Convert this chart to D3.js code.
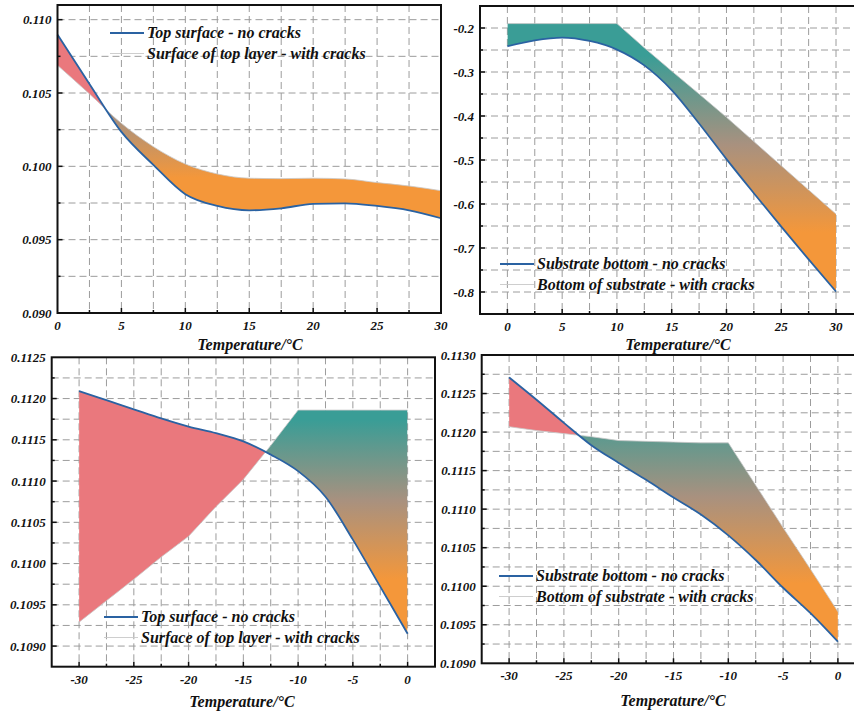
<!DOCTYPE html>
<html><head><meta charset="utf-8">
<script src="https://cdn.jsdelivr.net/npm/d3@7"></script>
<style>body{margin:0;background:#fff}svg{display:block}</style>
</head><body>
<svg id="chart" width="854" height="714"></svg>
<script>
// ---------- DATA ----------
// Panel A : top surface, 0..30 °C
const tempA = [0, 2.5, 5, 7.5, 10, 12.5, 15, 17.5, 20, 22.5, 25, 27.5, 30];
const noCracksA = [0.10898, 0.10562, 0.10235, 0.1001, 0.0981, 0.0973, 0.0970, 0.09714, 0.09744, 0.09748, 0.0973, 0.0970, 0.09646];
const withCracksA = [0.10689, 0.10494, 0.10293, 0.10134, 0.10016, 0.09948, 0.09919, 0.09916, 0.09919, 0.09914, 0.09889, 0.09866, 0.09834];
// Panel B : substrate bottom, 0..30 °C
const tempB = [0, 2.5, 5, 7.5, 10, 12.5, 15, 17.5, 20, 22.5, 25, 27.5, 30];
const noCracksB = [-0.2415, -0.228, -0.2218, -0.2295, -0.249, -0.285, -0.341, -0.417, -0.498, -0.5755, -0.6515, -0.726, -0.799];
const withCracksB = [-0.19, -0.19, -0.19, -0.19, -0.19, -0.245, -0.298, -0.35, -0.403, -0.458, -0.513, -0.568, -0.623];
// Panel C : top surface, -30..0 °C
const tempC = [-30, -27.5, -25, -22.5, -20, -17.5, -15, -12.5, -10, -7.5, -5, -2.5, 0];
const noCracksC = [0.11209, 0.11198, 0.11187, 0.11176, 0.11166, 0.11158, 0.11148, 0.11132, 0.11112, 0.11081, 0.11029, 0.10972, 0.10915];
const withCracksC = [0.10929, 0.10955, 0.10981, 0.11008, 0.11033, 0.11069, 0.11102, 0.11143, 0.11186, 0.11186, 0.11186, 0.11186, 0.11186];
// Panel D : substrate bottom, -30..0 °C
const tempD = [-30, -27.5, -25, -22.5, -20, -17.5, -15, -12.5, -10, -7.5, -5, -2.5, 0];
const noCracksD = [0.11271, 0.11242, 0.11212, 0.11183, 0.1116, 0.11138, 0.11115, 0.11093, 0.11066, 0.11034, 0.10998, 0.10965, 0.10928];
const withCracksD = [0.11207, 0.11202, 0.11198, 0.11194, 0.11189, 0.11188, 0.11187, 0.11186, 0.11186, 0.11131, 0.11076, 0.11022, 0.10967];

// tick labels
const xTicksPos = [0, 5, 10, 15, 20, 25, 30];
const xTicksNeg = [-30, -25, -20, -15, -10, -5, 0];
const yTicksA = [0.090, 0.095, 0.100, 0.105, 0.110];
const yTicksB = [-0.8, -0.7, -0.6, -0.5, -0.4, -0.3, -0.2];
const yTicksC = [0.1090, 0.1095, 0.1100, 0.1105, 0.1110, 0.1115, 0.1120, 0.1125];
const yTicksD = [0.1090, 0.1095, 0.1100, 0.1105, 0.1110, 0.1115, 0.1120, 0.1125, 0.1130];

const legendTop = ["Top surface - no cracks", "Surface of top layer - with cracks"];
const legendBottom = ["Substrate bottom - no cracks", "Bottom of substrate - with cracks"];
const xTitle = "Temperature/\u00B0C";

// ---------- LAYOUT ----------
const panels = [
  {id:"A", left:57.5, top:5, width:383.5, height:308, xDom:[0,30], yDom:[0.090,0.111],
   x:tempA, a:noCracksA, b:withCracksA, xt:xTicksPos, yt:yTicksA, yfmt:d=>d.toFixed(3),
   xMinorStep:2.5, yMinorStep:0.0025, crackCurve:d3.curveMonotoneX,
   legend:legendTop, lx:110, ly:33, titleX:250, titleY:350},
  {id:"B", left:480, top:6, width:383.4, height:308, xDom:[-2.5,32.5], yDom:[-0.85,-0.15],
   x:tempB, a:noCracksB, b:withCracksB, xt:xTicksPos, yt:yTicksB, yfmt:d=>d.toFixed(1),
   xMinorStep:2.5, yMinorStep:0.05, crackCurve:d3.curveLinear,
   legend:legendBottom, lx:500, ly:264, titleX:678, titleY:350},
  {id:"C", left:51.7, top:357.3, width:383.3, height:309.4, xDom:[-32.5,2.5], yDom:[0.10875,0.1125],
   x:tempC, a:noCracksC, b:withCracksC, xt:xTicksNeg, yt:yTicksC, yfmt:d=>d.toFixed(4),
   xMinorStep:2.5, yMinorStep:0.00025, crackCurve:d3.curveLinear,
   legend:legendTop, lx:104, ly:617, titleX:242, titleY:707},
  {id:"D", left:481.7, top:355, width:383.6, height:308.3, xDom:[-32.5,2.5], yDom:[0.1090,0.1130],
   x:tempD, a:noCracksD, b:withCracksD, xt:xTicksNeg, yt:yTicksD, yfmt:d=>d.toFixed(4),
   xMinorStep:2.5, yMinorStep:0.00025, crackCurve:d3.curveLinear,
   legend:legendBottom, lx:499, ly:576, titleX:673, titleY:706}
];

const FONT = "'Liberation Serif','Times New Roman',serif";
const BLUE = "#2a62a2", RED = "#ea787d", TEAL = "#3a9d96", MID = "#a8917f", ORANGE = "#f4973a";

const svg = d3.select("#chart");
const defs = svg.append("defs");

panels.forEach(p => {
  const xs = d3.scaleLinear().domain(p.xDom).range([0, p.width]);
  const ys = d3.scaleLinear().domain(p.yDom).range([p.height, 0]);
  const g = svg.append("g").attr("transform", `translate(${p.left},${p.top})`);
  const data = p.x.map((t, i) => ({t, a: p.a[i], b: p.b[i]}));

  // grid
  const eps = 1e-9;
  const xGrid = d3.range(p.xDom[0], p.xDom[1] + eps, p.xMinorStep).filter(v => v > p.xDom[0] + eps && v < p.xDom[1] - eps);
  const nY = Math.round((p.yDom[1] - p.yDom[0]) / p.yMinorStep);
  const yGrid = d3.range(0, nY + 1).map(i => p.yDom[0] + i * p.yMinorStep).filter(v => v > p.yDom[0] + eps && v < p.yDom[1] - eps);
  g.append("g").selectAll("line").data(xGrid).join("line")
    .attr("x1", d => xs(d)).attr("x2", d => xs(d)).attr("y1", 0).attr("y2", p.height)
    .attr("stroke", "#9c9c9c").attr("stroke-width", 1).attr("stroke-dasharray", "7,4");
  g.append("g").selectAll("line").data(yGrid).join("line")
    .attr("y1", d => ys(d)).attr("y2", d => ys(d)).attr("x1", 0).attr("x2", p.width)
    .attr("stroke", "#9c9c9c").attr("stroke-width", 1).attr("stroke-dasharray", "7,4");

  // gradient over the band's vertical extent
  const all = p.a.concat(p.b);
  const grad = defs.append("linearGradient").attr("id", "grad" + p.id)
    .attr("gradientUnits", "userSpaceOnUse").attr("x1", 0).attr("x2", 0)
    .attr("y1", ys(d3.max(all))).attr("y2", ys(d3.min(all)));
  grad.append("stop").attr("offset", "0%").attr("stop-color", TEAL);
  grad.append("stop").attr("offset", "12%").attr("stop-color", TEAL);
  grad.append("stop").attr("offset", "45%").attr("stop-color", MID);
  grad.append("stop").attr("offset", "78%").attr("stop-color", ORANGE);
  grad.append("stop").attr("offset", "100%").attr("stop-color", ORANGE);

  // clip regions relative to the no-cracks line (in the panel's own coordinates)
  const aboveA = d3.area().x(d => xs(d.t)).y0(-5).y1(d => ys(d.a)).curve(d3.curveMonotoneX);
  const belowA = d3.area().x(d => xs(d.t)).y0(p.height + 5).y1(d => ys(d.a)).curve(d3.curveMonotoneX);
  defs.append("clipPath").attr("id", "above" + p.id).append("path").attr("d", aboveA(data));
  defs.append("clipPath").attr("id", "below" + p.id).append("path").attr("d", belowA(data));

  const underB = d3.area().x(d => xs(d.t)).y0(p.height + 5).y1(d => ys(d.b)).curve(p.crackCurve);
  const overB = d3.area().x(d => xs(d.t)).y0(-5).y1(d => ys(d.b)).curve(p.crackCurve);
  g.append("g").attr("clip-path", `url(#above${p.id})`)
    .append("path").attr("d", underB(data)).attr("fill", `url(#grad${p.id})`);
  g.append("g").attr("clip-path", `url(#below${p.id})`)
    .append("path").attr("d", overB(data)).attr("fill", RED);

  // lines
  g.append("path").attr("d", d3.line().x(d => xs(d.t)).y(d => ys(d.b)).curve(p.crackCurve)(data))
    .attr("fill", "none").attr("stroke", "#c8c8c8").attr("stroke-width", 0.8);
  g.append("path").attr("d", d3.line().x(d => xs(d.t)).y(d => ys(d.a)).curve(d3.curveMonotoneX)(data))
    .attr("fill", "none").attr("stroke", BLUE).attr("stroke-width", 1.8);

  // frame
  g.append("rect").attr("x", 0).attr("y", 0).attr("width", p.width).attr("height", p.height)
    .attr("fill", "none").attr("stroke", "#111").attr("stroke-width", 2);

  // ticks (inward)
  g.append("g").selectAll("line").data(xGrid).join("line")
    .attr("x1", d => xs(d)).attr("x2", d => xs(d)).attr("y1", p.height)
    .attr("y2", d => p.height - (p.xt.some(t => Math.abs(t - d) < eps) ? 5 : 3))
    .attr("stroke", "#111").attr("stroke-width", 1.5);
  g.append("g").selectAll("line").data(yGrid).join("line")
    .attr("y1", d => ys(d)).attr("y2", d => ys(d)).attr("x1", 0)
    .attr("x2", d => (p.yt.some(t => Math.abs(t - d) < eps) ? 5 : 3))
    .attr("stroke", "#111").attr("stroke-width", 1.5);

  // tick labels
  g.append("g").selectAll("text").data(p.xt).join("text")
    .attr("x", d => xs(d)).attr("y", p.height + 17).attr("text-anchor", "middle")
    .attr("font-family", FONT).attr("font-weight", 700).attr("font-style", "italic")
    .attr("font-size", 13).attr("fill", "#111").text(d => String(d));
  g.append("g").selectAll("text").data(p.yt).join("text")
    .attr("x", -6).attr("y", d => ys(d)).attr("dy", "0.35em").attr("text-anchor", "end")
    .attr("font-family", FONT).attr("font-weight", 700).attr("font-style", "italic")
    .attr("font-size", 13).attr("fill", "#111").text(p.yfmt);

  // axis title
  svg.append("text").attr("x", p.titleX).attr("y", p.titleY).attr("text-anchor", "middle")
    .attr("font-family", FONT).attr("font-weight", 700).attr("font-style", "italic")
    .attr("font-size", 16).attr("fill", "#111").text(xTitle);

  // legend
  const lg = svg.append("g");
  [0, 1].forEach(i => {
    const yy = p.ly + i * 20.5;
    lg.append("line").attr("x1", p.lx).attr("x2", p.lx + 34).attr("y1", yy).attr("y2", yy)
      .attr("stroke", i === 0 ? BLUE : "#c8c8c8").attr("stroke-width", i === 0 ? 1.8 : 0.9);
    lg.append("text").attr("x", p.lx + 37).attr("y", yy + 5)
      .attr("font-family", FONT).attr("font-weight", 700).attr("font-style", "italic")
      .attr("font-size", 16).attr("fill", "#111").text(p.legend[i]);
  });
});
</script>
</body></html>
